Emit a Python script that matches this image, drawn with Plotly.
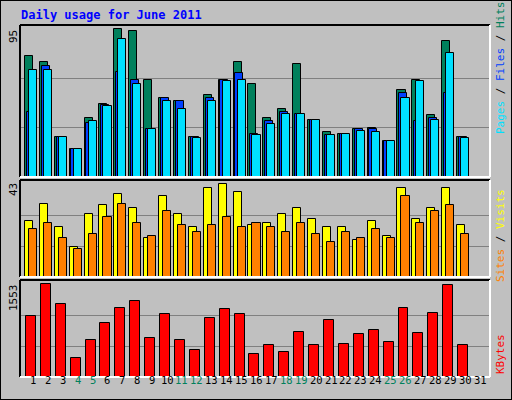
import plotly.graph_objects as go

days = list(range(1, 32))
hits = [77.5, 74, 25.5, 17.8, 37.7, 46.6, 94.8, 94, 62, 51, 48.6, 25.5, 52.4, 62, 74, 60,
        37.7, 43.4, 72.3, 36.4, 28.7, 27.4, 30.6, 31.2, 22.9, 55.6, 62, 39.6, 87, 25.5, 0]
files = [42, 71, 25.5, 17.8, 34.4, 46, 67.2, 62, 31, 51, 48.6, 25.5, 50.5, 62, 66.5, 27.4,
         35.7, 42, 40.2, 36.4, 26.7, 27.4, 30.6, 30.6, 22.9, 53.7, 35.7, 37.7, 53.7, 25.5, 0]
pages = [68.5, 68.5, 25.5, 17.8, 35.7, 45.4, 88.4, 60, 30.6, 49, 43.4, 24.8, 48.6, 61.4, 62, 26.7,
         33.8, 40.2, 40.2, 36.4, 26.7, 27.4, 29.3, 28.7, 22.9, 51, 61.4, 36.4, 79.4, 24.8, 0]
visits = [26.2, 34.1, 23.4, 14, 29.4, 33.2, 38.3, 32.2, 18.2, 37.4, 29.4, 23.4, 41.1, 43, 39.3, 24.3,
          25.2, 29.4, 32.2, 27.1, 23.4, 23.4, 17.3, 26.2, 19.2, 41.1, 27.1, 32.2, 41.1, 24.3, 0]
sites = [22.4, 25.2, 18.2, 13.1, 20.1, 28, 34.1, 25.2, 19.2, 30.4, 24.3, 21, 24.3, 28, 23.4, 25.2,
         23.4, 21, 25.2, 20.1, 16.4, 21, 18.2, 22.4, 18.2, 37.4, 25.2, 30.4, 33.2, 20.1, 0]
kbytes = [1026, 1553, 1230, 312, 618, 907, 1162, 1281, 652, 1060, 618, 448, 992, 1145, 1060, 380,
          533, 414, 754, 533, 958, 550, 720, 788, 584, 1162, 737, 1077, 1536, 533, 0]
weekends = [4, 5, 11, 12, 18, 19, 25, 26]

max_top, max_mid, max_bot = 95, 43, 1553
mono = "DejaVu Sans Mono"
line = dict(color="black", width=1)

fig = go.Figure()


def bars(y, color, offset, width, xa, ya):
    fig.add_trace(go.Bar(x=days, y=y, marker=dict(color=color, line=line),
                         offset=offset, width=width, xaxis=xa, yaxis=ya, hoverinfo="skip"))


bars(hits, "#00805C", -0.54, 0.54, "x", "y")
bars(files, "#0040FF", -0.42, 0.54, "x", "y")
bars(pages, "#00E0FF", -0.27, 0.54, "x", "y")
bars(visits, "#FFFF00", -0.54, 0.54, "x2", "y2")
bars(sites, "#FF8000", -0.27, 0.54, "x2", "y2")
bars(kbytes, "#FF0000", -0.47, 0.67, "x3", "y3")

xr = [0.13, 31.67]
xcommon = dict(range=xr, showgrid=False, zeroline=False, showticklabels=False,
               domain=[20 / 512, 490 / 512], fixedrange=True)
fig.update_layout(
    xaxis=dict(**xcommon, anchor="y"),
    xaxis2=dict(**xcommon, anchor="y2"),
    xaxis3=dict(**xcommon, anchor="y3"),
)
panels = [("yaxis", "x", max_top, max_top * 152 / 148, 25, 177),
          ("yaxis2", "x2", max_mid, 45, 180, 277),
          ("yaxis3", "x3", max_bot, 1625, 280, 377)]
for name, xa, mx, rng, y0, y1 in panels:
    fig.layout[name] = dict(range=[0, rng], domain=[1 - y1 / 400, 1 - y0 / 400], anchor=xa,
                            tickvals=[mx / 3, 2 * mx / 3], showticklabels=False,
                            gridcolor="#808080", gridwidth=1, zeroline=False, fixedrange=True)

shapes = [dict(type="rect", xref="paper", yref="paper", x0=0, x1=1, y0=0, y1=1,
               line=dict(color="black", width=2))]
for _, _, _, _, y0, y1 in panels:
    a, b = 1 - y1 / 400, 1 - y0 / 400
    xl, xr_ = 20 / 512, 490 / 512
    shapes += [
        dict(type="line", xref="paper", yref="paper", x0=xl, x1=xr_, y0=b, y1=b, line=dict(color="black", width=2)),
        dict(type="line", xref="paper", yref="paper", x0=xl, x1=xl, y0=a, y1=b, line=dict(color="black", width=2)),
        dict(type="line", xref="paper", yref="paper", x0=xl, x1=xr_, y0=a, y1=a, line=dict(color="white", width=2)),
        dict(type="line", xref="paper", yref="paper", x0=xr_, x1=xr_, y0=a, y1=b, line=dict(color="white", width=2)),
    ]

ann = [dict(text="<b>Daily usage for June 2011</b>", x=19, y=15, font=dict(color="#0000FF", size=12),
            xanchor="left")]
for txt, yy in [("95", 37), ("43", 190), ("1553", 298)]:
    ann.append(dict(text=txt, x=13, y=yy, textangle=-90, font=dict(color="black", size=11)))
ann.append(dict(text="<span style='color:#00E0FF'>Pages</span> / <span style='color:#0040FF'>Files</span>"
                     " / <span style='color:#00805C'>Hits</span>", x=500, y=68, textangle=-90,
                font=dict(color="black", size=11)))
ann.append(dict(text="<span style='color:#FF8000'>Sites</span> / <span style='color:#FFFF00'>Visits</span>",
                x=500, y=236, textangle=-90, font=dict(color="black", size=11)))
ann.append(dict(text="KBytes", x=500, y=354, textangle=-90, font=dict(color="#FF0000", size=11)))
for a in ann:
    a.update(xref="paper", yref="paper", showarrow=False, yanchor="middle")
    a["x"] = a["x"] / 512
    a["y"] = 1 - a["y"] / 400
    a["font"]["family"] = mono
    a.setdefault("xanchor", "center")
for d in days:
    ann.append(dict(text=str(d), x=d, xref="x3", y=1 - 388 / 400, yref="paper", showarrow=False,
                    font=dict(family=mono, size=10.5, color="#00805C" if d in weekends else "black")))

fig.update_layout(width=512, height=400, margin=dict(l=0, r=0, t=0, b=0),
                  paper_bgcolor="#C0C0C0", plot_bgcolor="#C0C0C0", barmode="overlay",
                  showlegend=False, shapes=shapes, annotations=ann, bargap=0)
fig.write_html("out.html", config={"displayModeBar": False},
               post_script="document.body.style.margin='0';document.body.style.overflow='hidden';")
